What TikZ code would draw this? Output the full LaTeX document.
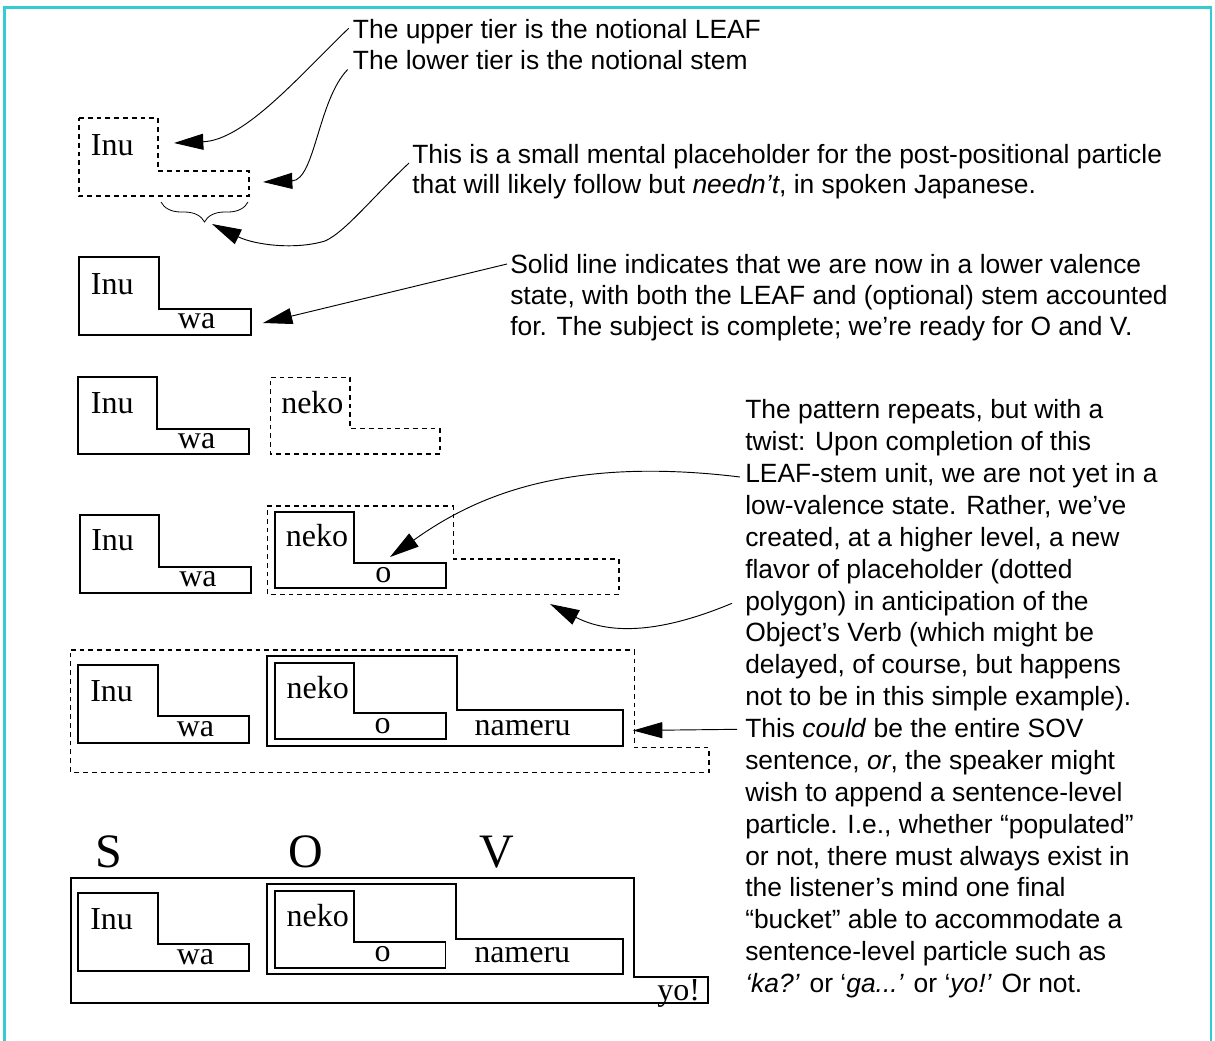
\documentclass[tikz,border=0pt]{standalone}
\usepackage{fontspec}
\setmainfont{Liberation Serif}
\newfontfamily\notefont{Liberation Sans}
\usetikzlibrary{arrows.meta,calc,decorations.pathreplacing}
\definecolor{framecyan}{RGB}{51,204,210}
\begin{document}
\begin{tikzpicture}[x=0.75pt,y=-0.75pt,
  tier/.style={line width=1.4pt, line join=miter},
  slot/.style={line width=1pt, dash pattern=on 3.6pt off 3pt},
  word/.style={font=\fontsize{24}{28}\selectfont, inner sep=0pt, anchor=base west},
  role/.style={font=\fontsize{36}{40}\selectfont, inner sep=0pt, anchor=base west},
  note/.style={font=\notefont\fontsize{19.8}{22.5}\selectfont, inner sep=0pt, anchor=base west, align=left},
  pointer/.style={line width=0.7pt, -{Triangle[length=22pt,width=12pt]}},
]
\useasboundingbox (0,0) rectangle (1215,1040);

% outer frame
\draw[framecyan, line width=1.6pt] (4.5,1045) -- (4.5,7.5) -- (1211,7.5) -- (1211,1045);

% ---------- row 1: empty placeholder for the subject ----------
\draw[slot] (79,118) -- (158,118) -- (158,171) -- (249,171) -- (249,196) -- (79,196) -- cycle;
\node[word] (inu1) at (90.7,155) {Inu};
\draw[line width=0.6pt, decorate, decoration={brace, mirror, amplitude=15pt}] (161,202) -- (248,202);

% ---------- row 2: subject complete ----------
\draw[tier] (79.3,257.3) -- (158.7,257.3) -- (158.7,308.7) -- (250.7,308.7) -- (250.7,334.7) -- (79.3,334.7) -- cycle;
\node[word] (inu2) at (90.7,294) {Inu};
\node[word] (wa2) at (177.7,328.7) {wa};

% ---------- row 3: object begins ----------
\draw[tier] (77.7,377.3) -- (157.3,377.3) -- (157.3,428.7) -- (249,428.7) -- (249,454) -- (77.7,454) -- cycle;
\node[word] (inu3) at (90.7,413.3) {Inu};
\node[word] (wa3) at (177.7,448.7) {wa};
\draw[slot] (270.7,377.3) -- (350,377.3) -- (350,428.7) -- (440,428.7) -- (440,454) -- (270.7,454) -- cycle;
\node[word] (neko3) at (281,413.3) {neko};

% ---------- row 4: object complete, verb slot opens ----------
\draw[tier] (80,515) -- (158.7,515) -- (158.7,566.7) -- (251,566.7) -- (251,592.7) -- (80,592.7) -- cycle;
\node[word] (inu4) at (91,550) {Inu};
\node[word] (wa4) at (179,586.7) {wa};
\draw[tier] (275,511.7) -- (353.7,511.7) -- (353.7,563) -- (446,563) -- (446,588.3) -- (275,588.3) -- cycle;
\node[word] (neko4) at (285.7,546.7) {neko};
\node[word] (o4) at (375,582.7) {o};
\draw[slot] (267.3,506) -- (453.3,506) -- (453.3,559) -- (619,559) -- (619,594.3) -- (267.3,594.3) -- cycle;

% ---------- row 5: verb in place, sentence slot ----------
\draw[slot] (70.8,650) -- (634.3,650) -- (634.3,747.7) -- (709,747.7) -- (709,772.3) -- (70.8,772.3) -- cycle;
\draw[tier] (78.2,665.3) -- (157.6,665.3) -- (157.6,715.7) -- (249,715.7) -- (249,742.7) -- (78.2,742.7) -- cycle;
\node[word] (inu5) at (90,701) {Inu};
\node[word] (wa5) at (176.6,736.3) {wa};
\draw[tier] (266.9,656) -- (456.7,656) -- (456.7,709.7) -- (623.3,709.7) -- (623.3,745.7) -- (266.9,745.7) -- cycle;
\draw[tier] (275,662.7) -- (353.6,662.7) -- (353.6,713) -- (445.7,713) -- (445.7,739) -- (275,739) -- cycle;
\node[word] (neko5) at (286.4,698.7) {neko};
\node[word] (o5) at (374.4,733.7) {o};
\node[word] (nameru5) at (474.3,735.7) {nameru};

% ---------- row 6: full sentence with final particle ----------
\node[role] (roleS) at (95.5,867.3) {S};
\node[role] (roleO) at (288.5,867.3) {O};
\node[role] (roleV) at (479,867.3) {V};
\draw[tier] (70.8,877.7) -- (634.2,877.7) -- (634.2,976.7) -- (708.4,976.7) -- (708.4,1002.7) -- (70.8,1002.7) -- cycle;
\draw[tier] (78.2,893.3) -- (157.6,893.3) -- (157.6,943.7) -- (249,943.7) -- (249,970.7) -- (78.2,970.7) -- cycle;
\node[word] (inu6) at (90,929) {Inu};
\node[word] (wa6) at (176.6,964.3) {wa};
\draw[tier] (266.9,884) -- (456,884) -- (456,939) -- (622.9,939) -- (622.9,974) -- (266.9,974) -- cycle;
\draw[tier] (275,890.7) -- (353.6,890.7) -- (353.6,942) -- (445.5,942) -- (445.5,967.7) -- (275,967.7) -- cycle;
\node[word] (neko6) at (286.4,926.7) {neko};
\node[word] (o6) at (374.4,961.7) {o};
\node[word] (nameru6) at (474,962.3) {nameru};
\node[word] (yo6) at (657,1000) {yo!};

% ---------- notes (multi-line notes are placed by their last baseline) ----------
\node[note] (upperNote) at (352.7,38.3) {The upper tier is the notional LEAF};
\node[note] (lowerNote) at (352.7,69.5) {The lower tier is the notional stem};
\node[note] (slotNote) at (412,193.3) {This is a small mental placeholder for the post-positional particle\\that will likely follow but \textit{needn’t}, in spoken Japanese.};
\node[note, font=\notefont\fontsize{19.8}{23.25}\selectfont] (solidNote) at (510,335) {Solid line indicates that we are now in a lower valence\\state, with both the LEAF and (optional) stem accounted\\for. The subject is complete; we’re ready for O and V.};
\node[note, font=\notefont\fontsize{19.8}{23.9}\selectfont] (patternNote) at (745,992.5) {The pattern repeats, but with a\\
twist: Upon completion of this\\
LEAF-stem unit, we are not yet in a\\
low-valence state. Rather, we’ve\\
created, at a higher level, a new\\
flavor of placeholder (dotted\\
polygon) in anticipation of the\\
Object’s Verb (which might be\\
delayed, of course, but happens\\
not to be in this simple example).\\
This \textit{could} be the entire SOV\\
sentence, \textit{or}, the speaker might\\
wish to append a sentence-level\\
particle. I.e., whether “populated”\\
or not, there must always exist in\\
the listener’s mind one final\\
“bucket” able to accommodate a\\
sentence-level particle such as\\
\textit{‘ka?’} or ‘\textit{ga...’} or ‘\textit{yo!’} Or not.};

% ---------- pointer targets ----------
\coordinate (leafTip) at (174,143);
\coordinate (stemTip) at (263,182);
\coordinate (braceTip) at (212,224);
\coordinate (solidTip) at (263,323);
\coordinate (oTip) at (390,557);
\coordinate (verbSlotTip) at (550,604);
\coordinate (sentenceTip) at (633,730.5);

% ---------- pointers ----------
\draw[pointer] ($(upperNote.base west)+(-4,-10)$) .. controls (300,75) and (245,140) .. (leafTip);
\draw[pointer] ($(lowerNote.base west)+(-5,0)$) .. controls (318,100) and (315,180) .. (stemTip);
\draw[pointer] ($(slotNote.base west)+(-3,-30.3)$) .. controls (370,200) and (345,232) .. (325,241) .. controls (295,250) and (255,245) .. (braceTip);
\draw[pointer] ($(solidNote.base west)+(-3,-71)$) -- (solidTip);
\draw[pointer] ($(patternNote.base west)+(-5,-515.5)$) .. controls (560,455) and (470,500) .. (oTip);
\draw[pointer] ($(patternNote.base west)+(-13,-389.2)$) .. controls (680,625) and (620,640) .. (verbSlotTip);
\draw[pointer] ($(patternNote.base west)+(-8,-263.2)$) -- (sentenceTip);
\end{tikzpicture}
\end{document}
